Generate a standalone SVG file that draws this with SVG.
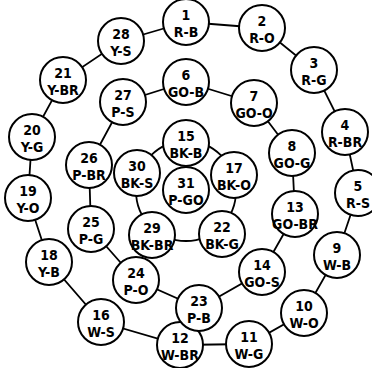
<svg xmlns="http://www.w3.org/2000/svg" width="372" height="368" viewBox="0 0 372 368">
<style>
.n circle{fill:#fff;stroke:#000;stroke-width:2}
.n text{font-family:"DejaVu Sans Condensed","Liberation Sans Narrow","Liberation Sans",sans-serif;font-stretch:condensed;font-weight:bold;font-size:14px;text-anchor:middle;fill:#000}
#connectors polyline,#connectors circle{fill:none;stroke:#000;stroke-width:1.8}
</style>
<rect width="372" height="368" fill="#fff"/>
<g id="connectors">
<polyline points="186,22 262,28 314,70 345,132 358,193 337,255 304,313 249,344 180,345 101,322 49,262 28,198 32,137 63,80 121,41 186,22"/>
<polyline points="186,82 254,103 292,153 295,214 262,272 199,308 136,280 91,229 89,165 123,102 186,82"/>
<circle cx="186" cy="191" r="50"/>
</g>
<g id="n1" class="n"><circle cx="186" cy="22" r="23"/><text x="186" y="20">1</text><text x="186" y="37">R-B</text></g>
<g id="n2" class="n"><circle cx="262" cy="28" r="23"/><text x="262" y="26">2</text><text x="262" y="43">R-O</text></g>
<g id="n3" class="n"><circle cx="314" cy="70" r="23"/><text x="314" y="68">3</text><text x="314" y="85">R-G</text></g>
<g id="n4" class="n"><circle cx="345" cy="132" r="23"/><text x="345" y="130">4</text><text x="345" y="147">R-BR</text></g>
<g id="n5" class="n"><circle cx="358" cy="193" r="23"/><text x="358" y="191">5</text><text x="358" y="208">R-S</text></g>
<g id="n9" class="n"><circle cx="337" cy="255" r="23"/><text x="337" y="253">9</text><text x="337" y="270">W-B</text></g>
<g id="n10" class="n"><circle cx="304" cy="313" r="23"/><text x="304" y="311">10</text><text x="304" y="328">W-O</text></g>
<g id="n11" class="n"><circle cx="249" cy="344" r="23"/><text x="249" y="342">11</text><text x="249" y="359">W-G</text></g>
<g id="n12" class="n"><circle cx="180" cy="345" r="23"/><text x="180" y="343">12</text><text x="180" y="360">W-BR</text></g>
<g id="n16" class="n"><circle cx="101" cy="322" r="23"/><text x="101" y="320">16</text><text x="101" y="337">W-S</text></g>
<g id="n18" class="n"><circle cx="49" cy="262" r="23"/><text x="49" y="260">18</text><text x="49" y="277">Y-B</text></g>
<g id="n19" class="n"><circle cx="28" cy="198" r="23"/><text x="28" y="196">19</text><text x="28" y="213">Y-O</text></g>
<g id="n20" class="n"><circle cx="32" cy="137" r="23"/><text x="32" y="135">20</text><text x="32" y="152">Y-G</text></g>
<g id="n21" class="n"><circle cx="63" cy="80" r="23"/><text x="63" y="78">21</text><text x="63" y="95">Y-BR</text></g>
<g id="n28" class="n"><circle cx="121" cy="41" r="23"/><text x="121" y="39">28</text><text x="121" y="56">Y-S</text></g>
<g id="n6" class="n"><circle cx="186" cy="82" r="23"/><text x="186" y="80">6</text><text x="186" y="97">GO-B</text></g>
<g id="n7" class="n"><circle cx="254" cy="103" r="23"/><text x="254" y="101">7</text><text x="254" y="118">GO-O</text></g>
<g id="n8" class="n"><circle cx="292" cy="153" r="23"/><text x="292" y="151">8</text><text x="292" y="168">GO-G</text></g>
<g id="n13" class="n"><circle cx="295" cy="214" r="23"/><text x="295" y="212">13</text><text x="295" y="229">GO-BR</text></g>
<g id="n14" class="n"><circle cx="262" cy="272" r="23"/><text x="262" y="270">14</text><text x="262" y="287">GO-S</text></g>
<g id="n23" class="n"><circle cx="199" cy="308" r="23"/><text x="199" y="306">23</text><text x="199" y="323">P-B</text></g>
<g id="n24" class="n"><circle cx="136" cy="280" r="23"/><text x="136" y="278">24</text><text x="136" y="295">P-O</text></g>
<g id="n25" class="n"><circle cx="91" cy="229" r="23"/><text x="91" y="227">25</text><text x="91" y="244">P-G</text></g>
<g id="n26" class="n"><circle cx="89" cy="165" r="23"/><text x="89" y="163">26</text><text x="89" y="180">P-BR</text></g>
<g id="n27" class="n"><circle cx="123" cy="102" r="23"/><text x="123" y="100">27</text><text x="123" y="117">P-S</text></g>
<g id="n15" class="n"><circle cx="186" cy="143" r="23"/><text x="186" y="141">15</text><text x="186" y="158">BK-B</text></g>
<g id="n17" class="n"><circle cx="234" cy="175" r="23"/><text x="234" y="173">17</text><text x="234" y="190">BK-O</text></g>
<g id="n22" class="n"><circle cx="222" cy="234" r="23"/><text x="222" y="232">22</text><text x="222" y="249">BK-G</text></g>
<g id="n29" class="n"><circle cx="152" cy="235" r="23"/><text x="152" y="233">29</text><text x="152" y="250">BK-BR</text></g>
<g id="n30" class="n"><circle cx="137" cy="173" r="23"/><text x="137" y="171">30</text><text x="137" y="188">BK-S</text></g>
<g id="n31" class="n"><circle cx="186" cy="190" r="23"/><text x="186" y="188">31</text><text x="186" y="205">P-GO</text></g>
</svg>
